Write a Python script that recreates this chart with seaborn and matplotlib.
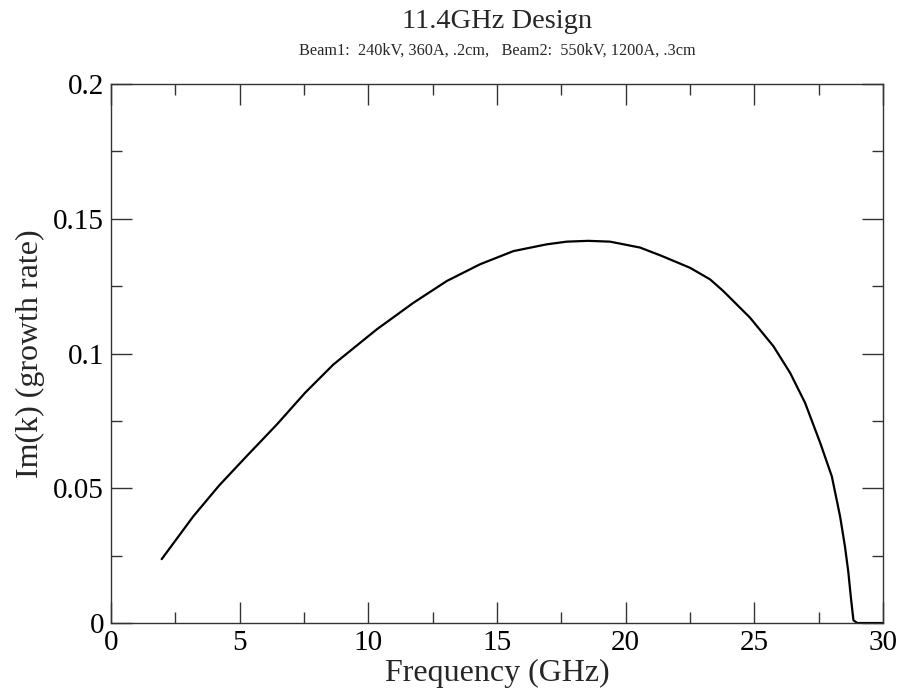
import matplotlib
matplotlib.use("Agg")
import matplotlib.pyplot as plt
import seaborn as sns
import pandas as pd
from matplotlib.ticker import MultipleLocator

freq_ghz = [1.97, 3.2, 4.2, 5.27, 6.44, 7.54, 8.64, 10.32, 11.75, 13.05, 14.34, 15.64,
            16.93, 17.71, 18.55, 19.39, 20.56, 21.4, 22.5, 23.28, 23.8, 24.83, 25.74,
            26.39, 26.97, 27.56, 28.01, 28.33, 28.52, 28.65, 28.75, 28.85, 29.0, 30.0]
growth = [0.0237, 0.0396, 0.0510, 0.0619, 0.0736, 0.0854, 0.0959, 0.1089, 0.1188,
          0.1269, 0.1331, 0.1380, 0.1405, 0.1415, 0.1418, 0.1415, 0.1393, 0.1362,
          0.1318, 0.1275, 0.1231, 0.1133, 0.1027, 0.0928, 0.0817, 0.0668, 0.0544,
          0.0396, 0.0284, 0.0190, 0.0095, 0.001, 0.0, 0.0]

title = "11.4GHz Design"
subtitle = "Beam1:  240kV, 360A, .2cm,   Beam2:  550kV, 1200A, .3cm"
xlabel = "Frequency (GHz)"
ylabel = "Im(k) (growth rate)"
xtick_labels = ["0", "5", "10", "15", "20", "25", "30"]
ytick_labels = ["0", "0.05", "0.1", "0.15", "0.2"]

sns.set_theme(style="ticks")
plt.rcParams["font.family"] = ["Liberation Serif", "DejaVu Serif"]

df = pd.DataFrame({"f": freq_ghz, "g": growth})

fig = plt.figure(figsize=(9.03, 6.98), dpi=100)
ax = fig.add_axes([0.1229, 0.1074, 0.9779 - 0.1229, 0.8797 - 0.1074])
sns.lineplot(data=df, x="f", y="g", ax=ax, color="black", linewidth=1.6, sort=False)

ax.set_xlim(0, 30)
ax.set_ylim(0, 0.2)
ax.set_xticks([0, 5, 10, 15, 20, 25, 30])
ax.set_xticklabels(xtick_labels)
ax.set_yticks([0, 0.05, 0.1, 0.15, 0.2])
ax.set_yticklabels(ytick_labels)
ax.xaxis.set_minor_locator(MultipleLocator(2.5))
ax.yaxis.set_minor_locator(MultipleLocator(0.025))
ax.tick_params(which="both", direction="in", top=True, right=True,
               color="#333333", width=1.0, labelsize=21, labelcolor="black")
ax.tick_params(which="major", length=15, pad=5)
ax.tick_params(which="minor", length=8)
for s in ax.spines.values():
    s.set_linewidth(1.0)
    s.set_color("#333333")

ax.set_xlabel(xlabel, fontsize=23, labelpad=2)
ax.set_ylabel(ylabel, fontsize=23, labelpad=6)

cx = (0.1229 + 0.9779) / 2
fig.text(cx, 1 - 28 / 698, title, ha="center", va="baseline", fontsize=20.5)
fig.text(cx, 1 - 55 / 698, subtitle, ha="center", va="baseline", fontsize=11.7)

fig.savefig("out.png", dpi=100, facecolor="white")
